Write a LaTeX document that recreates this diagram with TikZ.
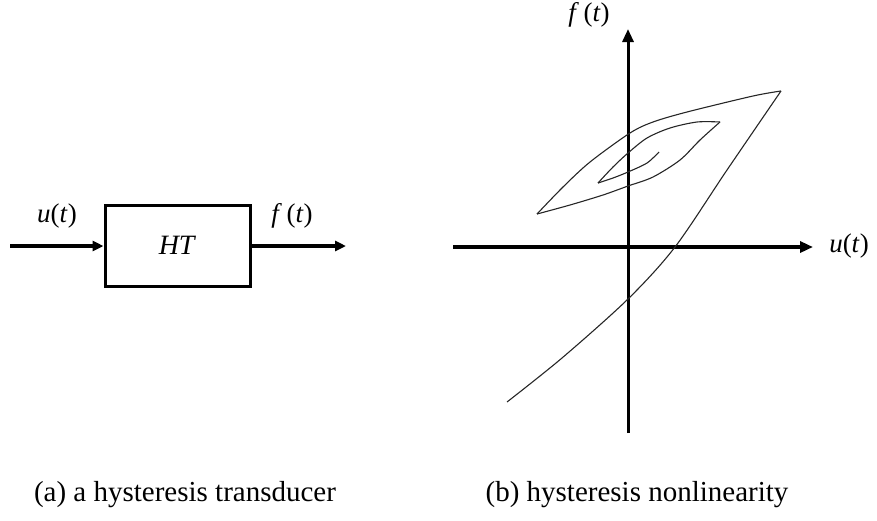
\documentclass[tikz,border=0pt]{standalone}
\usepackage{fontspec}
\setmainfont{Liberation Serif}
\usepackage{tikz}
\usetikzlibrary{arrows.meta,positioning}

\tikzset{
  sig/.style={line width=4pt,-{Triangle[length=11pt,width=10pt]}},
  axis/.style={line width=3.5pt,-{Triangle[length=13pt,width=11pt]}},
  loopline/.style={line width=1.1pt,black!85,line join=round},
  varlabel/.style={font=\fontsize{27}{32}\selectfont},
  subcap/.style={font=\fontsize{29}{34}\selectfont}
}

\begin{document}
\begin{tikzpicture}[x=1pt,y=-1pt]
\useasboundingbox (0,0) rectangle (877,520);

% Transducer block
\node[draw,line width=3pt,minimum width=145pt,minimum height=81pt,
      font=\fontsize{28}{32}\selectfont] (ht) at (177.5,245.5) {\textit{HT}};
\coordinate (in) at (10,246);
\coordinate (out) at (346,246);
\draw[sig] (in) -- (ht.west |- in);
\draw[sig] (ht.east |- out) -- (out);

\node[varlabel] (ulab) at (57,216) {\textit{u}(\textit{t})};
\node[varlabel] (flab) at (292,216) {\textit{f}\,(\textit{t})};

% Axes
\coordinate (uleft) at (453,247);
\coordinate (uright) at (813,247);
\coordinate (fbot) at (628,433);
\coordinate (ftop) at (628,29);
\draw[axis] (uleft) -- (uright);
\draw[axis,line width=3pt] (fbot) -- (ftop);

\node[varlabel] (faxis) at (589,15) {\textit{f}\,(\textit{t})};
\node[varlabel] (uaxis) at (849,246) {\textit{u}(\textit{t})};

% Hysteresis spiral
\draw[loopline] plot[smooth] coordinates {(507,402) (562,358) (628,299)
  (675,247) (727,170) (781,91)};
\draw[loopline] plot[smooth] coordinates {(781,91) (753,96) (687,112)
  (653,122) (630,133) (590,162) (563,187) (537,214)};
\draw[loopline] plot[smooth] coordinates {(537,214) (570,205) (603,195)
  (628,186) (653,177) (680,160) (700,140) (720,122)};
\draw[loopline] plot[smooth] coordinates {(720,122) (697,122) (670,128)
  (647,138) (628,153) (613,167) (598,183)};
\draw[loopline] plot[smooth] coordinates {(598,183) (613,178) (628,172)
  (647,163) (659,152)};

% Captions
\node[subcap] (capa) at (185,495) {(a) a hysteresis transducer};
\node[subcap] (capb) at (637,495) {(b) hysteresis nonlinearity};

\end{tikzpicture}
\end{document}
